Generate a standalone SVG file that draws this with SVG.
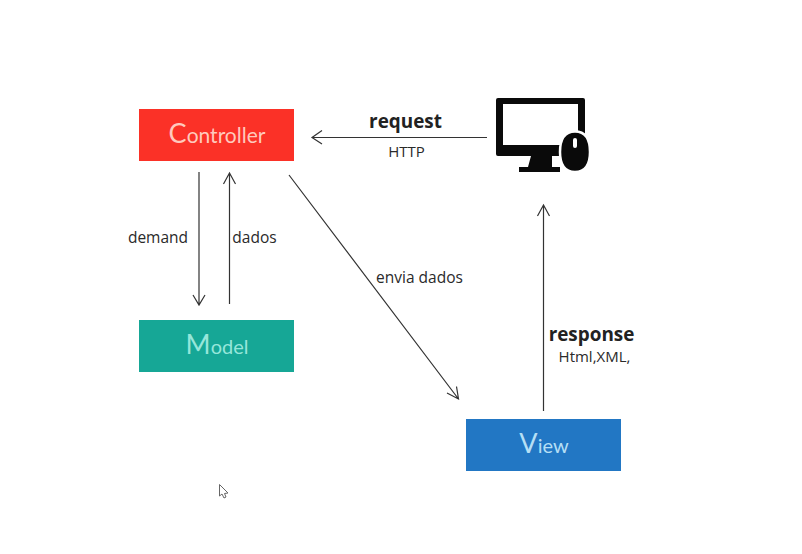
<svg xmlns="http://www.w3.org/2000/svg" width="802" height="554" viewBox="0 0 802 554">
<style>
.conn{fill:none;stroke:#333;stroke-width:1.2}
.t{font-family:"Open Sans","Noto Sans",sans-serif;fill:#2a2a2a}
.b{font-weight:700;font-size:18.900px;fill:#222}
.s{font-size:15px}
.n{font-family:"Lato","Noto Sans",sans-serif;text-anchor:middle;font-size:20px}
.c{font-size:27px}
</style>
<rect width="802" height="554" fill="#fff"/>
<g id="connectors">
<path class="conn" d="M487 137.500H312M322 130.500L312 137.500L322 144"/>
<path class="conn" d="M199 172V305M193 295L199 305L205 295"/>
<path class="conn" d="M229.500 304V173M223.500 184L229.500 173L235.500 184"/>
<path class="conn" d="M289 175L458.500 399M447 393L458.500 399L456.500 386.500"/>
<path class="conn" d="M543.500 411V205M537.500 216L543.500 205L549.500 216"/>
</g>
<g id="controller">
<rect x="139" y="109" width="155" height="52" fill="#fb3127"/>
<text class="n" x="217" y="143" fill="#ffc9bd" style="font-size:21px"><tspan class="c">C</tspan>ontroller</text>
</g>
<g id="model">
<rect x="139" y="320" width="155" height="52" fill="#16a796"/>
<text class="n" x="217" y="354" fill="#96e6da"><tspan class="c">M</tspan>odel</text>
</g>
<g id="view">
<rect x="466" y="419" width="155" height="52" fill="#2277c4"/>
<text class="n" x="544" y="453" fill="#b5dff5"><tspan class="c">V</tspan>iew</text>
</g>
<g id="computer">
<path fill-rule="evenodd" fill="#0a0a0a" d="M498 98H583Q585 98 585 100V154Q585 156 583 156H498Q496 156 496 154V100Q496 98 498 98ZM503 104V145H578V104Z"/>
<path fill="#0a0a0a" d="M531 156H552V167H560V172H519V167H528Z"/>
<path fill="#0a0a0a" stroke="#fff" stroke-width="2.500" d="M575 131.500C585 131.500 590 139 590 152C590 165 585 172 575 172C565 172 560 165 560 152C560 139 565 131.500 575 131.500Z"/>
<rect x="573" y="138" width="4" height="10" rx="2" fill="#fff"/>
</g>
<g id="labels">
<text class="t b" x="405.500" y="128" text-anchor="middle">request</text>
<text class="t s" x="406.500" y="157" text-anchor="middle">HTTP</text>
<text class="t s" x="158" y="243" text-anchor="middle" style="font-size:15.500px">demand</text>
<text class="t s" x="254.500" y="243" text-anchor="middle" style="font-size:15.500px">dados</text>
<text class="t s" x="419.500" y="283" text-anchor="middle" style="font-size:15.500px">envia dados</text>
<text class="t b" x="591.500" y="341" text-anchor="middle">response</text>
<text class="t s" x="594.500" y="362" text-anchor="middle">Html,XML,</text>
</g>
<path id="cursor" d="M219.500 484.500V496L222 494L224 498L226 497L224.500 493.500L228 493Z" fill="#fff" stroke="#666" stroke-width="1"/>
</svg>
